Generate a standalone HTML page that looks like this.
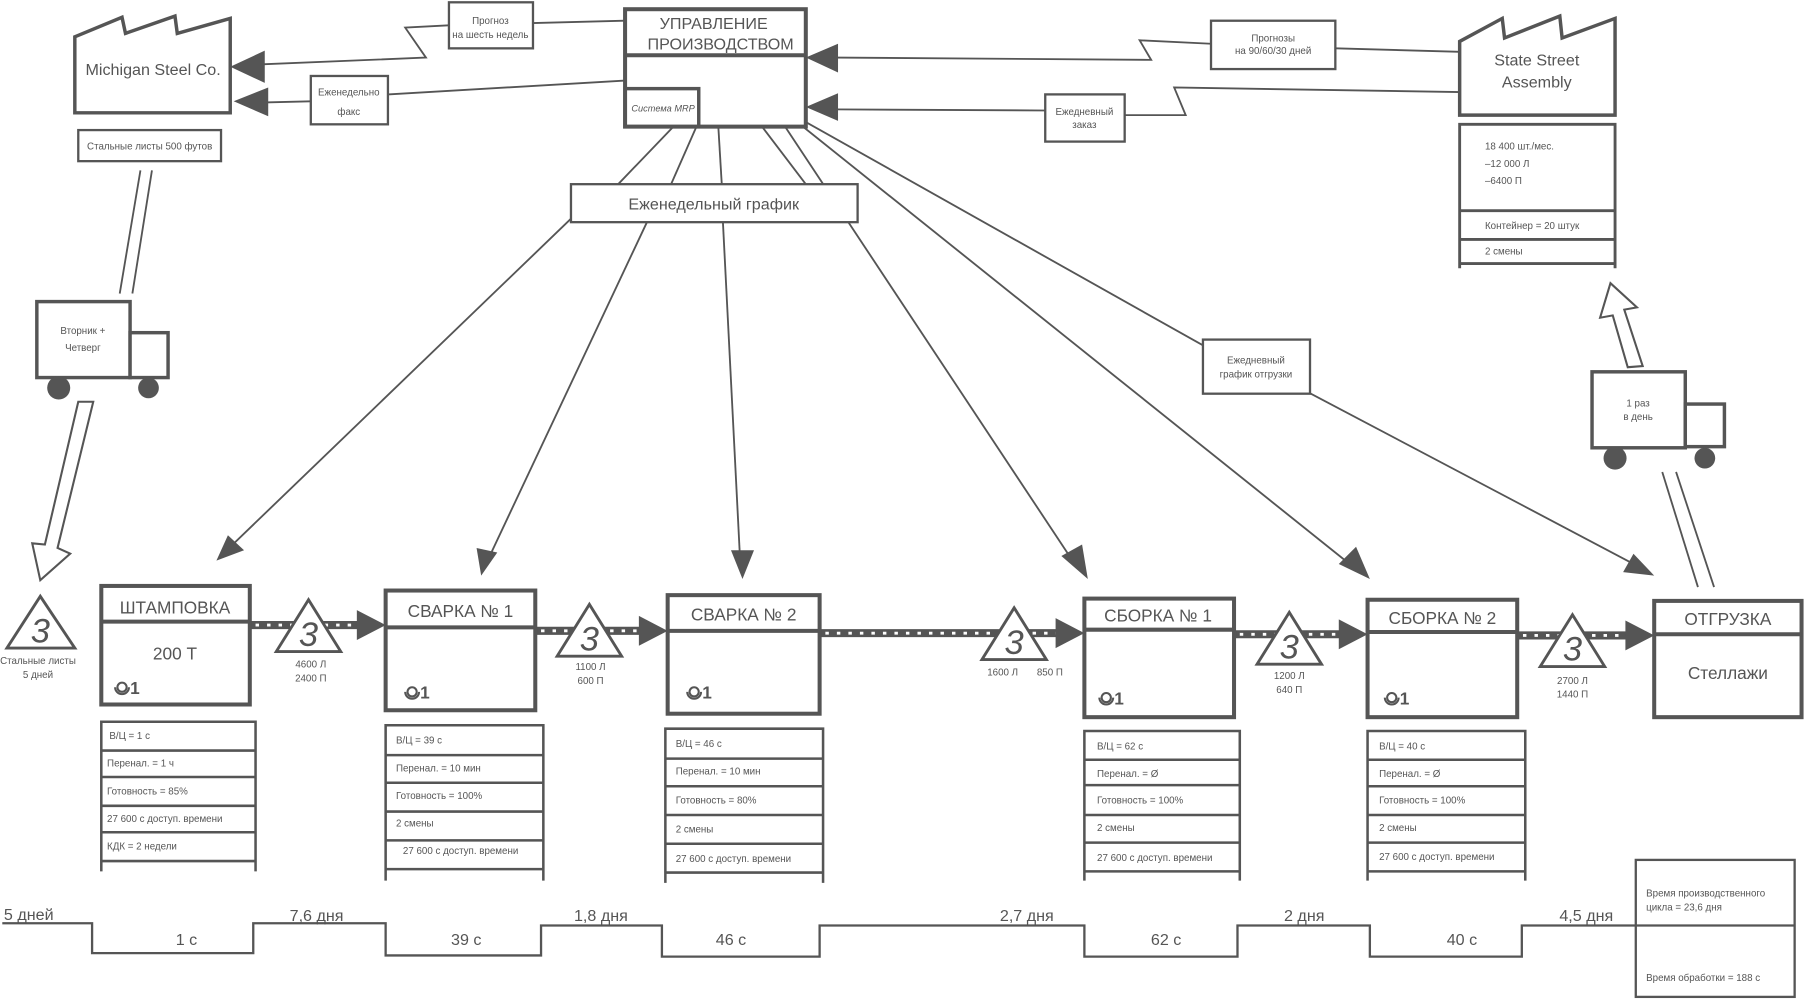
<!DOCTYPE html>
<html><head><meta charset="utf-8"><style>
html,body{margin:0;padding:0;background:#fff;}
svg{display:block;}
text{font-family:"Liberation Sans","DejaVu Sans",sans-serif;fill:#555;}
</style></head><body>
<svg width="1805" height="1000" viewBox="0 0 1568 868.7" preserveAspectRatio="none" xmlns="http://www.w3.org/2000/svg">
<defs>
<g id="op"><circle cx="0" cy="0" r="4" fill="none" stroke="#555" stroke-width="1.8"/><path d="M-6,0 A6,6 0 0 0 6,0" fill="none" stroke="#555" stroke-width="1.8"/></g>
</defs>
<g stroke="#555" fill="none" stroke-width="1.6">
<!-- Michigan factory -->
<polygon points="65,32 106,15 109,29 152,14 154,29 200,16 200,98 65,98" fill="#fff" stroke-width="3"/>
<rect x="68" y="113" width="124" height="27" stroke-width="2"/>
<!-- mgmt lines to weekly / cells -->
<line x1="585" y1="110" x2="537" y2="160"/>
<line x1="605" y1="110" x2="583" y2="160"/>
<line x1="624" y1="110" x2="627" y2="160"/>
<line x1="662" y1="110" x2="700" y2="160"/>
<line x1="682" y1="110" x2="935" y2="492"/>
<line x1="695" y1="108" x2="1175" y2="492"/>
<line x1="700" y1="106" x2="1045" y2="300"/>
<line x1="1135" y1="340" x2="1425" y2="493"/>
<line x1="496" y1="190" x2="197" y2="478"/>
<line x1="562" y1="193" x2="424" y2="486"/>
<line x1="628" y1="193" x2="643" y2="488"/>
<!-- top left connectors -->
<polyline points="543,18 463,20"/>
<polyline points="390,22 352,24 370,50 225,56"/>
<polyline points="543,70 337,82"/>
<polyline points="270,88 230,89"/>
<!-- top right connectors -->
<polyline points="725,50 1000,52 990,35 1052,38"/>
<polyline points="1160,42 1268,45"/>
<polyline points="725,95 908,96"/>
<polyline points="977,100 1030,100 1020,76 1268,80"/>
<!-- boxes top -->
<rect x="390" y="2" width="73" height="40" fill="#fff" stroke-width="2"/>
<rect x="270" y="66" width="67" height="42" fill="#fff" stroke-width="2"/>
<rect x="543" y="8" width="157" height="102" fill="#fff" stroke-width="3.5"/>
<line x1="543" y1="48" x2="700" y2="48" stroke-width="3.5"/>
<rect x="543" y="77" width="64" height="33" stroke-width="3"/>
<rect x="1052" y="18" width="108" height="42" fill="#fff" stroke-width="2"/>
<rect x="908" y="82" width="69" height="41" fill="#fff" stroke-width="2"/>
<rect x="496" y="160" width="249" height="33" fill="#fff" stroke-width="2"/>
<rect x="1045" y="295" width="93" height="47" fill="#fff" stroke-width="2"/>
<!-- State street -->
<polygon points="1268,36 1305,16 1307,33 1355,14 1357,33 1403,16 1403,100 1268,100" fill="#fff" stroke-width="3"/>
<polyline points="1268,233 1268,108 1403,108 1403,233" stroke-width="2.5"/>
<line x1="1268" y1="183" x2="1403" y2="183" stroke-width="2.5"/>
<line x1="1268" y1="208" x2="1403" y2="208" stroke-width="2.5"/>
<line x1="1268" y1="229" x2="1403" y2="229" stroke-width="2.5"/>
<!-- right truck & arrows -->
<polygon points="1414,319 1401,274 1390,276 1399,246 1422,267 1411,269 1427,318" fill="#fff" stroke-width="1.8"/>
<rect x="1383" y="323" width="81" height="66" fill="#fff" stroke-width="3"/>
<rect x="1464" y="351" width="34" height="37" fill="#fff" stroke-width="3"/>
<line x1="1444" y1="410" x2="1475" y2="510"/>
<line x1="1456" y1="410" x2="1489" y2="510"/>
<!-- left truck & arrows -->
<line x1="122" y1="148" x2="104" y2="255"/>
<line x1="132" y1="148" x2="115" y2="255"/>
<rect x="32" y="262" width="81" height="66" fill="#fff" stroke-width="3"/>
<rect x="113" y="289" width="33" height="39" fill="#fff" stroke-width="3"/>
<polygon points="68,349 39,473 28,472 35,504 61,481 50,476 81,349" fill="#fff" stroke-width="1.8"/>
</g>
<g fill="#555">
<circle cx="51" cy="337" r="10"/><circle cx="129" cy="337" r="9"/>
<circle cx="1403" cy="398" r="10"/><circle cx="1481" cy="398" r="9"/>
<polygon points="200,58 230,44 230,72"/>
<polygon points="203,88 233,76 233,101"/>
<polygon points="700,50 728,38 728,63"/>
<polygon points="700,93 728,81 728,105"/>
<polygon points="188,487 198,465 212,478"/>
<polygon points="418,500 414,476 432,480"/>
<polygon points="645,503 635,478 655,478"/>
<polygon points="945,503 922,483 940,473"/>
<polygon points="1190,503 1163,490 1178,475"/>
<polygon points="1437,500 1410,497 1419,481"/>
</g>
<!-- push arrows -->
<g>
<g stroke="#555" stroke-width="7"><line x1="218" y1="543" x2="315" y2="543"/><line x1="466" y1="548" x2="560" y2="548"/><line x1="713" y1="550" x2="920" y2="550"/><line x1="1073" y1="551" x2="1168" y2="551"/><line x1="1319" y1="552" x2="1415" y2="552"/></g>
<g stroke="#fff" stroke-width="2.5" stroke-dasharray="3 7"><line x1="222" y1="543" x2="312" y2="543"/><line x1="470" y1="548" x2="556" y2="548"/><line x1="717" y1="550" x2="918" y2="550"/><line x1="1077" y1="551" x2="1166" y2="551"/><line x1="1323" y1="552" x2="1412" y2="552"/></g>
<g fill="#555"><polygon points="335,543 310,530 310,556"/><polygon points="580,548 555,535 555,561"/><polygon points="942,550 917,537 917,563"/><polygon points="1188,551 1163,538 1163,564"/><polygon points="1437,552 1412,539 1412,565"/></g>
</g>
<!-- triangles -->
<g stroke="#555" stroke-width="2.5" fill="#fff">
<polygon points="35,518 6,563 65,563"/>
<polygon points="268,521 240,566 296,566"/>
<polygon points="512,525 484,570 540,570"/>
<polygon points="881,528 853,573 909,573"/>
<polygon points="1120,532 1092,577 1148,577"/>
<polygon points="1366,534 1338,579 1394,579"/>
</g>
<g font-size="30" text-anchor="middle" style="font-style:italic">
<text x="35" y="558">3</text><text x="268" y="561">3</text><text x="512" y="565">3</text><text x="881" y="568">3</text><text x="1120" y="572">3</text><text x="1366" y="574">3</text>
</g>
<!-- process boxes -->
<g stroke="#555" stroke-width="3.5" fill="#fff">
<rect x="88" y="509" width="129" height="103"/><line x1="88" y1="540" x2="217" y2="540"/>
<rect x="335" y="513" width="130" height="104"/><line x1="335" y1="545" x2="465" y2="545"/>
<rect x="580" y="517" width="132" height="103"/><line x1="580" y1="548" x2="712" y2="548"/>
<rect x="942" y="520" width="130" height="103"/><line x1="942" y1="547" x2="1072" y2="547"/>
<rect x="1188" y="521" width="130" height="102"/><line x1="1188" y1="549" x2="1318" y2="549"/>
<rect x="1437" y="522" width="128" height="101"/><line x1="1437" y1="551" x2="1565" y2="551"/>
</g>
<g font-size="15" text-anchor="middle">
<text x="152" y="533">ШТАМПОВКА</text><text x="400" y="536">СВАРКА № 1</text><text x="646" y="539">СВАРКА № 2</text>
<text x="1006" y="540">СБОРКА № 1</text><text x="1253" y="542">СБОРКА № 2</text><text x="1501" y="543">ОТГРУЗКА</text>
<text x="152" y="573">200 Т</text><text x="1501" y="590">Стеллажи</text>
</g>
<g font-size="15" font-weight="bold">
<use href="#op" x="106" y="597"/><text x="113" y="603">1</text>
<use href="#op" x="358" y="601"/><text x="365" y="607">1</text>
<use href="#op" x="603" y="601"/><text x="610" y="607">1</text>
<use href="#op" x="961" y="606"/><text x="968" y="612">1</text>
<use href="#op" x="1209" y="606"/><text x="1216" y="612">1</text>
</g>
<!-- data boxes -->
<g stroke="#555" stroke-width="2.2" fill="none">
<path d="M88,757 V627 H222 V757 M88,652 H222 M88,675 H222 M88,700 H222 M88,723 H222 M88,748 H222"/>
<path d="M335,765 V630 H472 V765 M335,656 H472 M335,680 H472 M335,705 H472 M335,730 H472 M335,755 H472"/>
<path d="M578,767 V633 H715 V767 M578,659 H715 M578,683 H715 M578,708 H715 M578,733 H715 M578,758 H715"/>
<path d="M942,765 V635 H1077 V765 M942,660 H1077 M942,682 H1077 M942,708 H1077 M942,732 H1077 M942,757 H1077"/>
<path d="M1188,765 V635 H1325 V765 M1188,660 H1325 M1188,683 H1325 M1188,708 H1325 M1188,732 H1325 M1188,757 H1325"/>
</g>
<g font-size="8.5">
<text x="95" y="642">В/Ц = 1 с</text><text x="93" y="666">Перенал. = 1 ч</text><text x="93" y="690">Готовность = 85%</text><text x="93" y="714">27 600 с доступ. времени</text><text x="93" y="738">КДК = 2 недели</text>
<text x="344" y="646">В/Ц = 39 с</text><text x="344" y="670">Перенал. = 10 мин</text><text x="344" y="694">Готовность = 100%</text><text x="344" y="718">2 смены</text><text x="350" y="742">27 600 с доступ. времени</text>
<text x="587" y="649">В/Ц = 46 с</text><text x="587" y="673">Перенал. = 10 мин</text><text x="587" y="698">Готовность = 80%</text><text x="587" y="723">2 смены</text><text x="587" y="749">27 600 с доступ. времени</text>
<text x="953" y="651">В/Ц = 62 с</text><text x="953" y="675">Перенал. = Ø</text><text x="953" y="698">Готовность = 100%</text><text x="953" y="722">2 смены</text><text x="953" y="748">27 600 с доступ. времени</text>
<text x="1198" y="651">В/Ц = 40 с</text><text x="1198" y="675">Перенал. = Ø</text><text x="1198" y="698">Готовность = 100%</text><text x="1198" y="722">2 смены</text><text x="1198" y="747">27 600 с доступ. времени</text>
</g>
<g font-size="8.5" text-anchor="middle">
<text x="33" y="577">Стальные листы</text><text x="33" y="589">5 дней</text>
<text x="270" y="580">4600 Л</text><text x="270" y="592">2400 П</text>
<text x="513" y="582">1100 Л</text><text x="513" y="594">600 П</text>
<text x="871" y="587">1600 Л</text><text x="912" y="587">850 П</text>
<text x="1120" y="590">1200 Л</text><text x="1120" y="602">640 П</text>
<text x="1366" y="594">2700 Л</text><text x="1366" y="606">1440 П</text>
<text x="426" y="21">Прогноз</text><text x="426" y="33">на шесть недель</text>
<text x="303" y="83">Еженедельно</text><text x="303" y="100">факс</text>
<text x="1106" y="36">Прогнозы</text><text x="1106" y="47">на 90/60/30  дней</text>
<text x="942" y="100">Ежедневный</text><text x="942" y="111">заказ</text>
<text x="1091" y="316">Ежедневный</text><text x="1091" y="328">график отгрузки</text>
<text x="72" y="290">Вторник +</text><text x="72" y="305">Четверг</text>
<text x="1423" y="353">1 раз</text><text x="1423" y="365">в день</text>
<text x="130" y="130">Стальные листы 500 футов</text>
<text x="576" y="97" style="font-style:italic" font-size="8">Система MRP</text>
</g>
<g font-size="8.5">
<text x="1290" y="130">18 400 шт./мес.</text><text x="1290" y="145">–12 000 Л</text><text x="1290" y="160">–6400  П</text>
<text x="1290" y="199">Контейнер = 20 штук</text><text x="1290" y="221">2 смены</text>
</g>
<g font-size="14" text-anchor="middle">
<text x="133" y="65">Michigan Steel Co.</text>
<text x="1335" y="57">State Street</text><text x="1335" y="76">Assembly</text>
<text x="620" y="25">УПРАВЛЕНИЕ</text><text x="626" y="43">ПРОИЗВОДСТВОМ</text>
<text x="620" y="182">Еженедельный график</text>
</g>
<!-- timeline -->
<polyline points="2,802 80,802 80,828 220,828 220,802 335,802 335,830 470,830 470,804 575,804 575,831 712,831 712,804 942,804 942,831 1075,831 1075,804 1190,804 1190,831 1322,831 1322,804 1421,804" fill="none" stroke="#555" stroke-width="2"/>
<rect x="1421" y="747" width="138" height="119" fill="none" stroke="#555" stroke-width="2"/>
<line x1="1421" y1="804" x2="1559" y2="804" stroke="#555" stroke-width="2"/>
<g font-size="14" text-anchor="middle">
<text x="25" y="799">5 дней</text><text x="275" y="800">7,6 дня</text><text x="522" y="800">1,8 дня</text><text x="892" y="800">2,7 дня</text><text x="1133" y="800">2 дня</text><text x="1378" y="800">4,5 дня</text>
<text x="162" y="821">1 с</text><text x="405" y="821">39 с</text><text x="635" y="821">46 с</text><text x="1013" y="821">62 с</text><text x="1270" y="821">40 с</text>
</g>
<g font-size="8.5">
<text x="1430" y="779">Время производственного</text><text x="1430" y="791">цикла = 23,6 дня</text>
<text x="1430" y="852">Время обработки = 188 с</text>
</g>
</svg>
</body></html>
